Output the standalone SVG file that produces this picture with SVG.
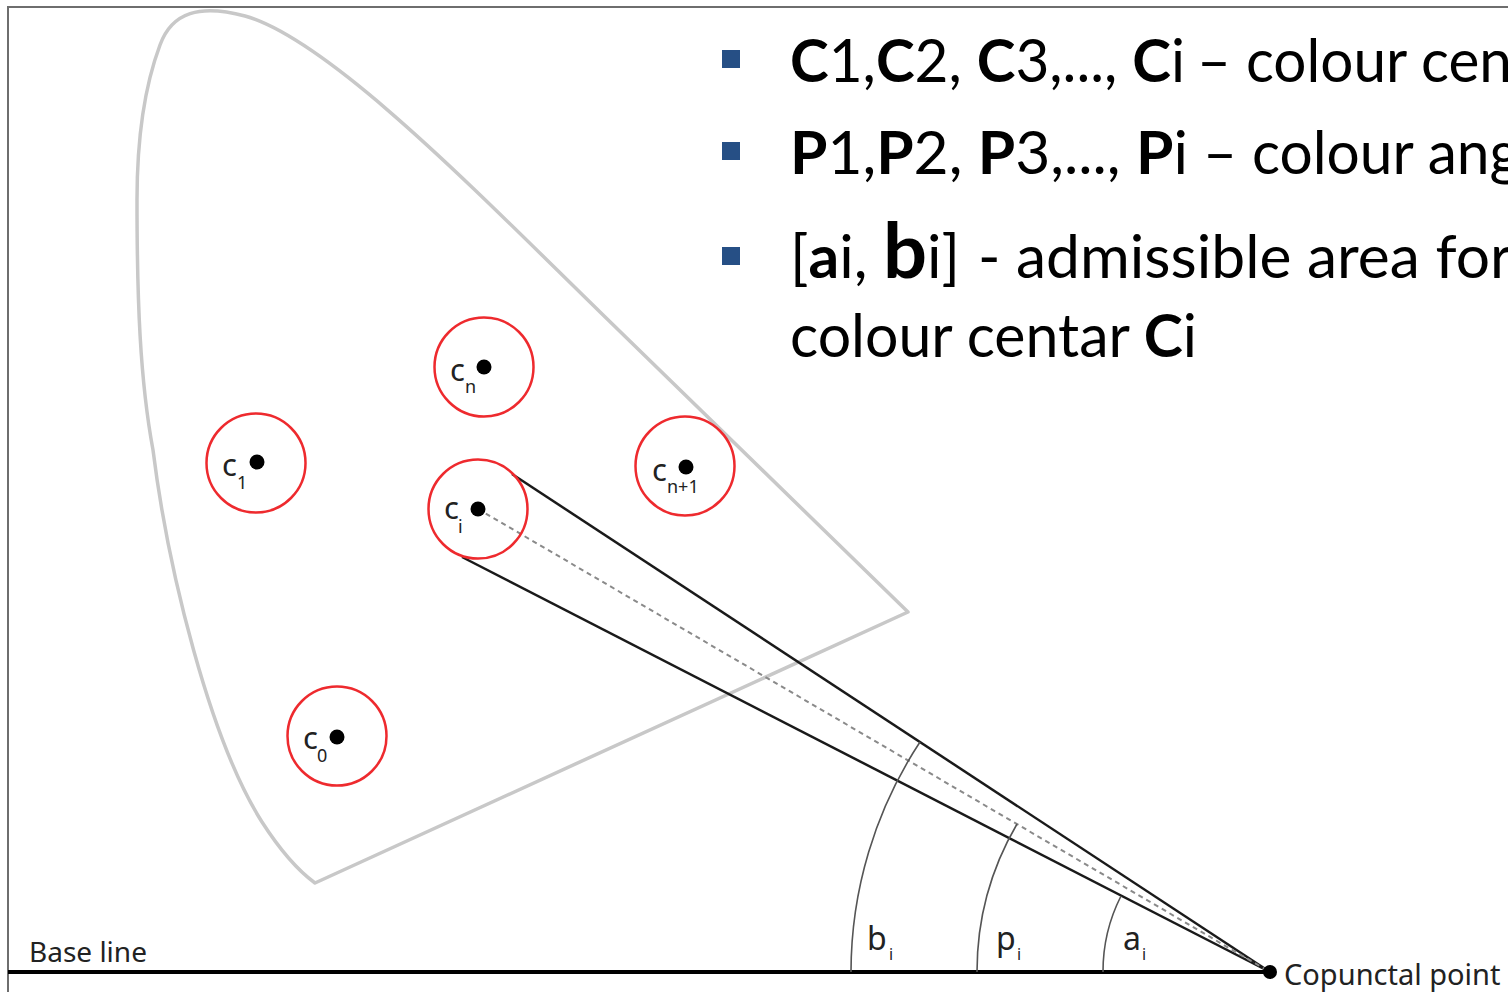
<svg xmlns="http://www.w3.org/2000/svg" width="1508" height="992" viewBox="0 0 1508 992">
<style>
.frame{stroke:#6e6e6e;stroke-width:2;fill:none}
.locus{stroke:#c8c8c8;stroke-width:3.5;fill:none;stroke-linejoin:round}
.ring{stroke:#ee2a2e;stroke-width:2.5;fill:none}
.dot{fill:#000}
.lbl{font-family:"Noto Sans","Open Sans",sans-serif;fill:#222}
.c{font-size:31px}
.sub{font-size:18px}
.cone{stroke:#1a1a1a;stroke-width:2.5;fill:none}
.dash{stroke:#8a8a8a;stroke-width:2;stroke-dasharray:5 4;fill:none}
.arc{stroke:#555;stroke-width:1.6;fill:none}
.leg{font-family:Lato,"Open Sans",sans-serif;font-size:60px;fill:#000}
.b{font-weight:bold}
.bullet{fill:#264f85}
</style>
<rect width="1508" height="992" fill="#fff"/>
<g id="frame">
<path class="frame" d="M8 992 V7 H1508"/>
</g>
<g id="locus">
<path class="locus" d="M315 883 L908 612 L600 312 C480 195 330 40 245 16 C200 4 172 12 160 45 C145 85 137 140 137 200 C137 300 140 380 153 450 C168 570 210 740 262 822 C280 850 300 872 315 883 Z"/>
</g>
<g id="baseline">
<line x1="8" y1="972" x2="1270" y2="972" stroke="#000" stroke-width="4"/>
<text class="lbl" x="29" y="962" font-size="28">Base line</text>
</g>
<g id="connectors">
<line class="cone" x1="512" y1="474" x2="1270" y2="972"/>
<line class="cone" x1="462" y1="557" x2="1270" y2="972"/>
<line class="dash" x1="478" y1="509" x2="1270" y2="972"/>
<path class="arc" d="M851 972 A419 419 0 0 1 920 742"/>
<path class="arc" d="M977 972 A293 293 0 0 1 1017 824"/>
<path class="arc" d="M1103 972 A167 167 0 0 1 1121 896"/>
</g>
<g id="angle-labels" class="lbl">
<text x="867" y="950" font-size="32">b</text><text x="889" y="960" font-size="16">i</text>
<text x="996" y="950" font-size="32">p</text><text x="1017" y="960" font-size="16">i</text>
<text x="1123" y="950" font-size="32">a</text><text x="1142" y="960" font-size="16">i</text>
</g>
<g id="copunctal">
<circle class="dot" cx="1270" cy="972" r="7"/>
<text class="lbl" x="1284" y="985" font-size="29">Copunctal point</text>
</g>
<g id="node-cn">
<circle class="ring" cx="484" cy="367" r="49.5"/>
<circle class="dot" cx="484" cy="367" r="7.5"/>
<text class="lbl c" x="450" y="381">c</text><text class="lbl sub" x="465" y="393">n</text>
</g>
<g id="node-cn1">
<circle class="ring" cx="685" cy="466" r="49.5"/>
<circle class="dot" cx="686" cy="467" r="7.5"/>
<text class="lbl c" x="652" y="481">c</text><text class="lbl sub" x="667" y="493">n+1</text>
</g>
<g id="node-ci">
<circle class="ring" cx="478" cy="509" r="49.5"/>
<circle class="dot" cx="478" cy="509" r="7.5"/>
<text class="lbl c" x="444" y="519">c</text><text class="lbl sub" x="458" y="533">i</text>
</g>
<g id="node-c1">
<circle class="ring" cx="256" cy="463" r="49.5"/>
<circle class="dot" cx="257" cy="462" r="7.5"/>
<text class="lbl c" x="222" y="476">c</text><text class="lbl sub" x="237" y="489">1</text>
</g>
<g id="node-c0">
<circle class="ring" cx="337" cy="736" r="49.5"/>
<circle class="dot" cx="337" cy="737" r="7.5"/>
<text class="lbl c" x="303" y="749">c</text><text class="lbl sub" x="317" y="762">0</text>
</g>
<g id="legend">
<rect class="bullet" x="722" y="50" width="18" height="18"/>
<rect class="bullet" x="722" y="142" width="18" height="18"/>
<rect class="bullet" x="722" y="247" width="18" height="18"/>
<text class="leg" x="790" y="82" textLength="395" lengthAdjust="spacingAndGlyphs"><tspan class="b">C</tspan>1,<tspan class="b">C</tspan>2, <tspan class="b">C</tspan>3,..., <tspan class="b">C</tspan>i</text>
<text class="leg" x="1197" y="82" textLength="315" lengthAdjust="spacingAndGlyphs">– colour cen</text>
<text class="leg" x="790" y="174" textLength="398" lengthAdjust="spacingAndGlyphs"><tspan class="b">P</tspan>1,<tspan class="b">P</tspan>2, <tspan class="b">P</tspan>3,..., <tspan class="b">P</tspan>i</text>
<text class="leg" x="1203" y="174" textLength="317" lengthAdjust="spacingAndGlyphs">– colour ang</text>
<text class="leg" x="790" y="278" textLength="170" lengthAdjust="spacingAndGlyphs">[<tspan class="b">a</tspan>i, <tspan class="b" font-size="77">b</tspan>i]</text>
<text class="leg" x="978" y="278" textLength="534" lengthAdjust="spacingAndGlyphs">- admissible area for</text>
<text class="leg" x="790" y="357" textLength="407" lengthAdjust="spacingAndGlyphs">colour centar <tspan class="b">C</tspan>i</text>
</g>
</svg>
